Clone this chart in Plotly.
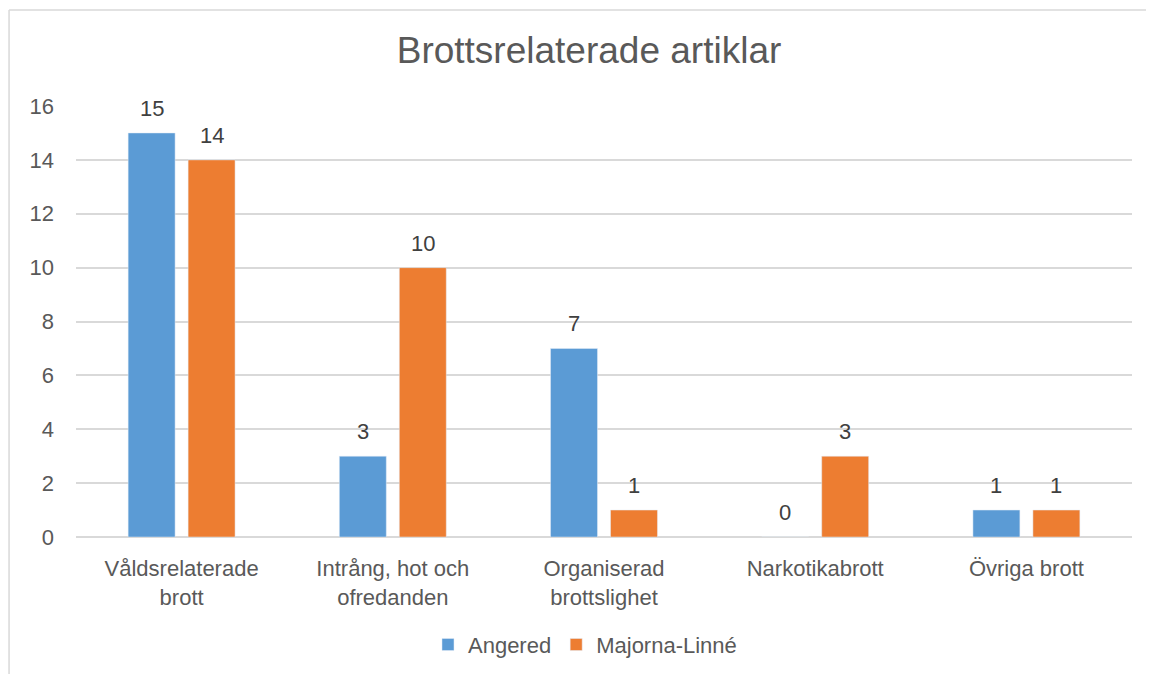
import plotly.graph_objects as go

categories = ["Våldsrelaterade<br>brott", "Intrång, hot och<br>ofredanden",
              "Organiserad<br>brottslighet", "Narkotikabrott", "Övriga brott"]
angered = [15, 3, 7, 0, 1]
majorna = [14, 10, 1, 3, 1]
y_ticks = [0, 2, 4, 6, 8, 10, 12, 14, 16]

FONT = "Liberation Sans"
GREY = "#595959"

fig = go.Figure()
fig.add_trace(go.Bar(x=categories, y=angered, name="Angered", marker_color="#5B9BD5"))
fig.add_trace(go.Bar(x=categories, y=majorna, name="Majorna-Linné", marker_color="#ED7D31"))

# data labels above each bar
labels = []
for cat, a, m in zip(categories, angered, majorna):
    for val, shift in ((a, -30), (m, 30)):
        labels.append(dict(x=cat, y=val, xref="x", yref="y", text=str(val), showarrow=False,
                           xshift=shift, yshift=10, yanchor="bottom",
                           font=dict(size=22, color="#404040")))

fig.update_layout(
    width=1146, height=666,
    margin=dict(l=68, r=22, t=98, b=137, autoexpand=False),
    paper_bgcolor="white", plot_bgcolor="white",
    font=dict(family=FONT, color=GREY, size=22),
    title=dict(text="Brottsrelaterade artiklar", x=0.507, xanchor="center",
               y=0.937, yanchor="middle", font=dict(size=37, color=GREY)),
    barmode="group", bargap=0.432, bargroupgap=0.217,
    legend=dict(orientation="h", x=0.482, xanchor="center", yref="container", y=0.044,
                yanchor="middle", font=dict(size=22, color=GREY), itemwidth=30),
    xaxis=dict(showgrid=False, showline=False, ticks="", tickfont=dict(size=22),
               ticklabelstandoff=16, automargin=False),
    yaxis=dict(range=[0, 16], tickvals=y_ticks, showgrid=True, gridcolor="#D9D9D9",
               gridwidth=1.5, zeroline=True, zerolinecolor="#D9D9D9", zerolinewidth=1.5,
               ticklabelstandoff=21, tickfont=dict(size=22), automargin=False),
    annotations=labels,
    shapes=[
        dict(type="line", xref="paper", yref="paper", x0=-0.0634, x1=1.1,
             y0=1.2227, y1=1.2227, line=dict(color="#D9D9D9", width=1.5)),
        dict(type="line", xref="paper", yref="paper", x0=-0.0634, x1=-0.0634,
             y0=1.2227, y1=-0.4, line=dict(color="#D9D9D9", width=1.5)),
    ],
)

fig.write_html("out.html")
